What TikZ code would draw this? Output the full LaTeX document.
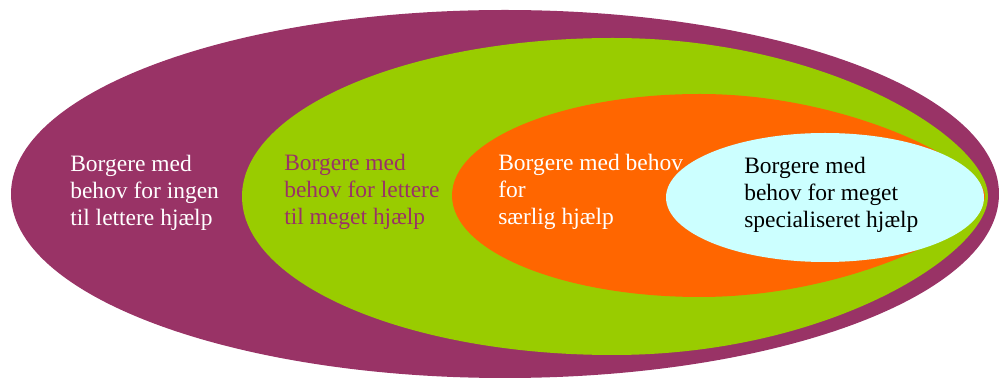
\documentclass[tikz,border=0pt]{standalone}
\usepackage{fontspec}
\setmainfont{Liberation Serif}
\definecolor{plum}{HTML}{993366}
\definecolor{lime}{HTML}{99CC00}
\definecolor{tangerine}{HTML}{FF6600}
\definecolor{paleaqua}{HTML}{CCFFFF}
\begin{document}
\begin{tikzpicture}[x=0.025cm, y=-0.025cm,
  grouptext/.style={anchor=north west, inner sep=0, align=left,
    font=\fontsize{16.7}{19.4}\selectfont}]
  \useasboundingbox (0,0) rectangle (999,379);
  % nested groups, outermost first
  \fill[plum] (505,194) ellipse [x radius=494, y radius=184];
  \fill[lime] (242,196.5) .. controls (242,109) and (408,38) .. (613,38)
    .. controls (830,38) and (988,140) .. (988,196.5)
    .. controls (988,253) and (830,355) .. (613,355)
    .. controls (408,355) and (242,284) .. cycle;
  \fill[tangerine] (452,195.5) .. controls (452,139.4) and (563,94) .. (700,94)
    .. controls (850,94) and (985,165) .. (985,196)
    .. controls (985,227) and (850,297) .. (700,297)
    .. controls (563,297) and (452,251.6) .. cycle;
  \fill[paleaqua] (825,197.5) ellipse [x radius=159, y radius=64.5];
  % texts
  \node[grouptext, text=white] (ingen) at (70,154.5)
    {Borgere med\\behov for ingen\\til lettere hjælp};
  \node[grouptext, text=plum] (lettere) at (284,153.5)
    {Borgere med\\behov for lettere\\til meget hjælp};
  \node[grouptext, text=white] (saerlig) at (498,153.5)
    {Borgere med behov\\for\\særlig hjælp};
  \node[grouptext, text=black] (special) at (744,156.5)
    {Borgere med\\behov for meget\\specialiseret hjælp};
\end{tikzpicture}
\end{document}
